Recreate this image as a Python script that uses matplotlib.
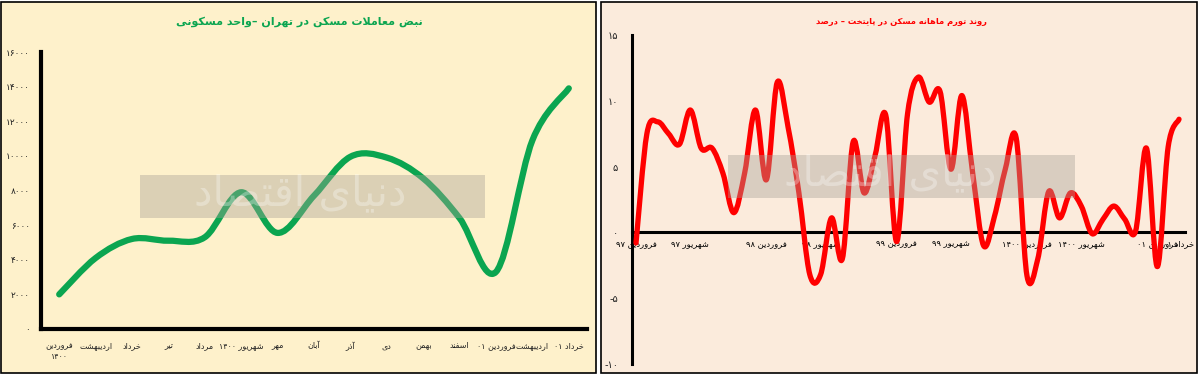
import numpy as np
import matplotlib.pyplot as plt
from matplotlib.path import Path
from matplotlib.patches import PathPatch, Rectangle

# ---- data ----
left_months = ["فروردین\n۱۴۰۰", "اردیبهشت", "خرداد", "تیر", "مرداد", "شهریور ۱۴۰۰", "مهر",
               "آبان", "آذر", "دی", "بهمن", "اسفند", "فروردین ۰۱", "اردیبهشت", "خرداد ۰۱"]
deals = [2000, 4100, 5200, 5100, 5300, 7900, 5550, 7700, 9950, 9900, 8700, 6400, 3300, 10900, 13900]
left_yticks = [0, 2000, 4000, 6000, 8000, 10000, 12000, 14000, 16000]

inflation = [-0.8, 7.5, 8.4, 7.5, 6.7, 9.3, 6.4, 6.4, 4.5, 1.5, 4.5, 9.3, 4.0,
             11.4, 8.0, 3.0, -3.2, -3.2, 1.1, -2.0, 6.9, 3.0, 5.8, 8.9, -0.7,
             9.0, 11.8, 9.9, 10.7, 4.8, 10.4, 4.5, -1.0, 1.2, 4.8, 7.2, -3.3,
             -2.0, 3.1, 1.1, 3.0, 2.0, -0.1, 1.0, 2.0, 1.0, 0.1, 6.4, -2.6, 6.5, 8.6]
right_tick_pos = [0, 5, 12, 17, 24, 29, 36, 41, 48, 50]
right_tick_lab = ["فروردین ۹۷", "شهریور ۹۷", "فروردین ۹۸", "شهریور ۹۸", "فروردین ۹۹",
                  "شهریور ۹۹", "فروردین ۱۴۰۰", "شهریور ۱۴۰۰", "فروردین ۰۱", "خرداد ۰۱"]
right_yticks = [-10, -5, 0, 5, 10, 15]

left_title = "نبض معاملات مسکن در تهران –واحد مسکونی"
right_title = "روند تورم ماهانه مسکن در پایتخت – درصد"

# ---- simple persian shaping (matplotlib has no bidi) ----
FORMS = {
    'ا': (0xFE8D, 0xFE8E, None, None), 'آ': (0xFE81, 0xFE82, None, None),
    'ب': (0xFE8F, 0xFE90, 0xFE91, 0xFE92), 'ت': (0xFE95, 0xFE96, 0xFE97, 0xFE98),
    'ث': (0xFE99, 0xFE9A, 0xFE9B, 0xFE9C), 'ج': (0xFE9D, 0xFE9E, 0xFE9F, 0xFEA0),
    'ح': (0xFEA1, 0xFEA2, 0xFEA3, 0xFEA4), 'خ': (0xFEA5, 0xFEA6, 0xFEA7, 0xFEA8),
    'د': (0xFEA9, 0xFEAA, None, None), 'ذ': (0xFEAB, 0xFEAC, None, None),
    'ر': (0xFEAD, 0xFEAE, None, None), 'ز': (0xFEAF, 0xFEB0, None, None),
    'س': (0xFEB1, 0xFEB2, 0xFEB3, 0xFEB4), 'ش': (0xFEB5, 0xFEB6, 0xFEB7, 0xFEB8),
    'ص': (0xFEB9, 0xFEBA, 0xFEBB, 0xFEBC), 'ض': (0xFEBD, 0xFEBE, 0xFEBF, 0xFEC0),
    'ط': (0xFEC1, 0xFEC2, 0xFEC3, 0xFEC4), 'ظ': (0xFEC5, 0xFEC6, 0xFEC7, 0xFEC8),
    'ع': (0xFEC9, 0xFECA, 0xFECB, 0xFECC), 'غ': (0xFECD, 0xFECE, 0xFECF, 0xFED0),
    'ف': (0xFED1, 0xFED2, 0xFED3, 0xFED4), 'ق': (0xFED5, 0xFED6, 0xFED7, 0xFED8),
    'ل': (0xFEDD, 0xFEDE, 0xFEDF, 0xFEE0), 'م': (0xFEE1, 0xFEE2, 0xFEE3, 0xFEE4),
    'ن': (0xFEE5, 0xFEE6, 0xFEE7, 0xFEE8), 'ه': (0xFEE9, 0xFEEA, 0xFEEB, 0xFEEC),
    'و': (0xFEED, 0xFEEE, None, None), 'پ': (0xFB56, 0xFB57, 0xFB58, 0xFB59),
    'چ': (0xFB7A, 0xFB7B, 0xFB7C, 0xFB7D), 'ژ': (0xFB8A, 0xFB8B, None, None),
    'ک': (0xFB8E, 0xFB8F, 0xFB90, 0xFB91), 'گ': (0xFB92, 0xFB93, 0xFB94, 0xFB95),
    'ی': (0xFBFC, 0xFBFD, 0xFBFE, 0xFBFF),
}
LAMALEF = {'ا': (0xFEFB, 0xFEFC), 'آ': (0xFEF5, 0xFEF6)}
DIGITS = set("۰۱۲۳۴۵۶۷۸۹0123456789")


def joins_left(c):
    return c in FORMS and FORMS[c][2] is not None


def shape_line(s):
    out = []
    i = 0
    while i < len(s):
        c = s[i]
        if c not in FORMS:
            out.append(c)
            i += 1
            continue
        prev = s[i - 1] if i > 0 else ''
        nxt = s[i + 1] if i + 1 < len(s) else ''
        cp = joins_left(prev)
        if c == 'ل' and nxt in LAMALEF:
            out.append(chr(LAMALEF[nxt][1] if cp else LAMALEF[nxt][0]))
            i += 2
            continue
        cn = nxt in FORMS and joins_left(c)
        f = FORMS[c]
        if cp and cn:
            out.append(chr(f[3]))
        elif cp:
            out.append(chr(f[1]))
        elif cn:
            out.append(chr(f[2]))
        else:
            out.append(chr(f[0]))
        i += 1
    # visual order: reverse, keeping digit runs left-to-right
    runs = []
    for ch in out:
        isd = ch in DIGITS
        if runs and runs[-1][0] == isd:
            runs[-1][1].append(ch)
        else:
            runs.append([isd, [ch]])
    vis = ''
    for isd, chars in reversed(runs):
        vis += ''.join(chars) if isd else ''.join(reversed(chars))
    return vis


def fa(s):
    return '\n'.join(shape_line(l) for l in s.split('\n'))


def fa_num(v):
    t = str(abs(v)).translate(str.maketrans("0123456789", "۰۱۲۳۴۵۶۷۸۹"))
    return ('-' + t) if v < 0 else t


def smooth_patch(x, y, color, lw):
    # Excel-like smoothed line: cubic bezier through every data point
    pts = np.column_stack([x, y]).astype(float)
    n = len(pts)
    verts = [pts[0]]
    codes = [Path.MOVETO]
    for i in range(n - 1):
        p0 = pts[i - 1] if i > 0 else pts[i]
        p1 = pts[i]
        p2 = pts[i + 1]
        p3 = pts[i + 2] if i + 2 < n else pts[i + 1]
        verts += [p1 + (p2 - p0) / 6, p2 - (p3 - p1) / 6, p2]
        codes += [Path.CURVE4] * 3
    return PathPatch(Path(verts, codes), fill=False, edgecolor=color, lw=lw,
                     capstyle='round', joinstyle='round', zorder=3)


plt.rcParams['font.family'] = ['DejaVu Sans']

fig = plt.figure(figsize=(12, 3.74), dpi=100)
W, H = 1200, 374

# panel backgrounds with black frames
fig.patches.append(Rectangle((1 / W, 1 / H), 595 / W, 371 / H, transform=fig.transFigure,
                             facecolor='#FEF1CB', edgecolor='black', lw=1.2, zorder=-5))
fig.patches.append(Rectangle((601 / W, 1 / H), 596 / W, 371 / H, transform=fig.transFigure,
                             facecolor='#FBEBDC', edgecolor='black', lw=1.2, zorder=-5))

# ---- left chart ----
ax1 = fig.add_axes([41 / W, 45 / H, 546 / W, 277 / H])
ax1.patch.set_alpha(0)
x1 = np.arange(len(deals))
ax1.add_patch(smooth_patch(x1, deals, '#0BA550', 4.5))
ax1.set_xlim(-0.5, len(deals) - 0.5)
ax1.set_ylim(0, 16000)
ax1.set_xticks(x1)
ax1.set_xticklabels([fa(m) for m in left_months], fontsize=5.8, color='#222222', va='top')
ax1.set_yticks(left_yticks)
ax1.set_yticklabels([fa_num(v) for v in left_yticks], fontsize=6.5, color='#222222')
ax1.tick_params(length=0)
ax1.tick_params(axis='y', pad=8)
ax1.tick_params(axis='x', pad=9)
for s in ['top', 'right']:
    ax1.spines[s].set_visible(False)
for s in ['left', 'bottom']:
    ax1.spines[s].set_linewidth(3)
fig.text(299 / W, 1 - 22 / H, fa(left_title), color='#0BA550', fontsize=8,
         fontweight='bold', ha='center', va='center')

# ---- right chart ----
ax2 = fig.add_axes([632 / W, 10 / H, 553 / W, 329 / H])
ax2.patch.set_alpha(0)
x2 = np.arange(len(inflation))
ax2.add_patch(smooth_patch(x2, inflation, '#FF0000', 3.8))
ax2.set_xlim(-0.37, 50.55)
ax2.set_ylim(-10, 15)
ax2.spines['bottom'].set_position(('data', 0))
ax2.set_xticks(right_tick_pos)
ax2.set_xticklabels([fa(m) for m in right_tick_lab], fontsize=6, color='black')
ax2.set_yticks(right_yticks)
ax2.set_yticklabels([fa_num(v) for v in right_yticks], fontsize=7, color='#222222')
ax2.tick_params(length=0)
ax2.tick_params(axis='y', pad=10)
ax2.tick_params(axis='x', pad=5)
for s in ['top', 'right']:
    ax2.spines[s].set_visible(False)
for s in ['left', 'bottom']:
    ax2.spines[s].set_linewidth(2.2)
fig.text(901 / W, 1 - 21 / H, fa(right_title), color='#FF0000', fontsize=6,
         fontweight='bold', ha='center', va='center')

# ---- watermark boxes ----
for (bx, by, bw, bh, tx) in [(140, 175, 345, 43, 300), (728, 155, 347, 43, 890)]:
    fig.patches.append(Rectangle((bx / W, 1 - (by + bh) / H), bw / W, bh / H,
                                 transform=fig.transFigure, facecolor='#A8A096',
                                 alpha=0.4, edgecolor='none', zorder=5))
    fig.text(tx / W, 1 - (by + 18) / H, fa("دنیای اقتصاد"), fontsize=30,
             color='white', alpha=0.3, ha='center', va='center', zorder=6)

fig.savefig("out.png", dpi=100)
